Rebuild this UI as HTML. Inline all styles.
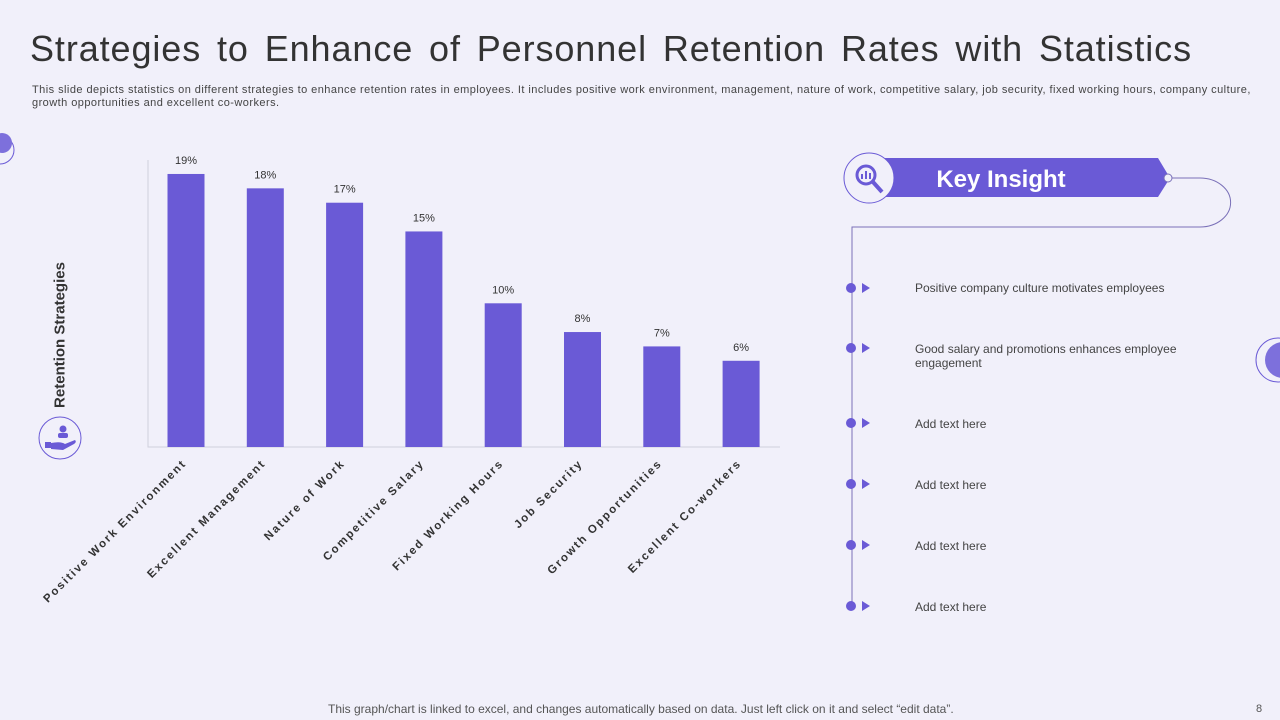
<!DOCTYPE html>
<html><head><meta charset="utf-8"><style>
body{margin:0;width:1280px;height:720px;background:#f1f0fa;font-family:"Liberation Sans",sans-serif;overflow:hidden;position:relative}
.t{position:absolute}
</style></head><body>
<div class="t" style="left:30px;top:28px;font-size:36px;color:#333;letter-spacing:0.9px;word-spacing:5px;white-space:nowrap">Strategies to Enhance of Personnel Retention Rates with Statistics</div>
<div class="t" style="left:32px;top:84px;width:1240px;font-size:11px;letter-spacing:0.45px;line-height:13px;color:#444;white-space:nowrap">This slide depicts statistics on different strategies to enhance retention rates in employees. It includes positive work environment, management, nature of work, competitive salary, job security, fixed working hours, company culture,<br>growth opportunities and excellent co-workers.</div>
<div class="t" style="left:328px;top:702px;font-size:12px;color:#555;white-space:nowrap">This graph/chart is linked to excel,  and changes automatically based on data. Just left click on it and select “edit data”.</div>
<div class="t" style="left:1256px;top:703px;font-size:11px;color:#555">8</div>
<svg class="t" style="left:0;top:0" width="1280" height="720">
<circle cx="0" cy="150" r="14" fill="none" stroke="#6a5ad6" stroke-width="1"/>
<circle cx="2" cy="143" r="10" fill="#7d70dc"/>
<circle cx="1278" cy="360" r="22" fill="none" stroke="#6a5ad6" stroke-width="1"/>
<circle cx="1283" cy="360" r="18" fill="#7d70dc"/>
<g>
<circle cx="60" cy="438" r="21" fill="none" stroke="#6a5ad6" stroke-width="1"/>
<circle cx="63" cy="429" r="3.5" fill="#6a5ad6"/><rect x="58" y="433" width="10" height="5" rx="2" fill="#6a5ad6"/>
<path d="M45 442 h6 v6 h-6z M51 443 q10 -2 14 1 l10 -4 q2 2 -1 4 l-11 6 l-12 -1z" fill="#6a5ad6"/>
</g>
<g id="chart"></g>
<g>
<path d="M1168 178 H1200 A30 24 0 0 1 1200 227 H852 V607" fill="none" stroke="#7a70b8" stroke-width="1"/>
<path d="M885 158 H1158 L1170 178 L1158 197 H885Z" fill="#6a5ad6"/>
<circle cx="1168" cy="178" r="4" fill="#f1f0fa" stroke="#7a70b8"/>
<circle cx="869" cy="178" r="25" fill="#f1f0fa" stroke="#6a5ad6" stroke-width="1"/>
<circle cx="866" cy="175" r="9" fill="none" stroke="#6a5ad6" stroke-width="3"/>
<rect x="861" y="174" width="2" height="5" fill="#6a5ad6"/><rect x="865" y="171" width="2" height="8" fill="#6a5ad6"/><rect x="869" y="173" width="2" height="6" fill="#6a5ad6"/>
<line x1="873" y1="182" x2="882" y2="192" stroke="#6a5ad6" stroke-width="4"/>
<text x="1001" y="187" text-anchor="middle" font-size="24" font-weight="bold" fill="#fff" font-family="Liberation Sans">Key Insight</text>
</g>
<g id="bullets"></g>
</svg>
<div class="t" style="left:60px;top:335px;transform:translate(-50%,-50%) rotate(-90deg);font-size:15px;font-weight:bold;color:#333;white-space:nowrap">Retention Strategies</div>
<div class="t" style="left:915px;top:281px;font-size:12px;color:#444">Positive company culture motivates employees</div>
<div class="t" style="left:915px;top:342px;width:280px;font-size:12px;line-height:14px;color:#444">Good salary and promotions enhances employee engagement</div>
<div class="t" style="left:915px;top:417px;font-size:12px;color:#444">Add text here</div>
<div class="t" style="left:915px;top:478px;font-size:12px;color:#444">Add text here</div>
<div class="t" style="left:915px;top:539px;font-size:12px;color:#444">Add text here</div>
<div class="t" style="left:915px;top:600px;font-size:12px;color:#444">Add text here</div>
<script>
const categories=["Positive Work Environment","Excellent Management","Nature of Work","Competitive Salary","Fixed Working Hours","Job Security","Growth Opportunities","Excellent Co-workers"];
const values=[19,18,17,15,10,8,7,6];
const valueLabels=["19%","18%","17%","15%","10%","8%","7%","6%"];
const NS="http://www.w3.org/2000/svg";
const g=document.getElementById('chart');
const x0=148,x1=780,base=447,pxPer=14.37,step=79.3,first=186,bw=37;
const xs=i=>first+i*step, ys=v=>base-v*pxPer;
function mk(t,a){const e=document.createElementNS(NS,t);for(const k in a)e.setAttribute(k,a[k]);g.appendChild(e);return e;}
const ax=mk('path',{d:`M${x0} 160 V${base} H${x1}`,fill:'none',stroke:'#d0d0dc','stroke-width':1});


values.forEach((v,i)=>{
 const r=mk('rect',{x:xs(i)-bw/2,y:ys(v),width:bw,height:base-ys(v),fill:'#6a5ad6'});
 
 
 const t=mk('text',{x:xs(i),y:ys(v)-10,'text-anchor':'middle','font-size':11,fill:'#333','font-family':'Liberation Sans'});
 t.textContent=valueLabels[i];
 
 
 const c=mk('text',{x:xs(i)+1,y:base+17,'text-anchor':'end','font-size':11.5,'font-weight':'bold','letter-spacing':'1.9',fill:'#333','font-family':'Liberation Sans',transform:`rotate(-45 ${xs(i)+1} ${base+17})`});
 c.textContent=categories[i];
 
 
});
const bg=document.getElementById('bullets');
[288,348,423,484,545,606].forEach((y,i)=>{
 const d=document.createElementNS(NS,'circle');d.setAttribute('cx',851);d.setAttribute('cy',y);d.setAttribute('r',5);d.setAttribute('fill','#6a5ad6');
 
 
 bg.appendChild(d);
 const p=document.createElementNS(NS,'path');p.setAttribute('d',`M862 ${y-5} L870 ${y} L862 ${y+5}Z`);p.setAttribute('fill','#6a5ad6');
 
 
 bg.appendChild(p);
});
</script>
</body></html>
